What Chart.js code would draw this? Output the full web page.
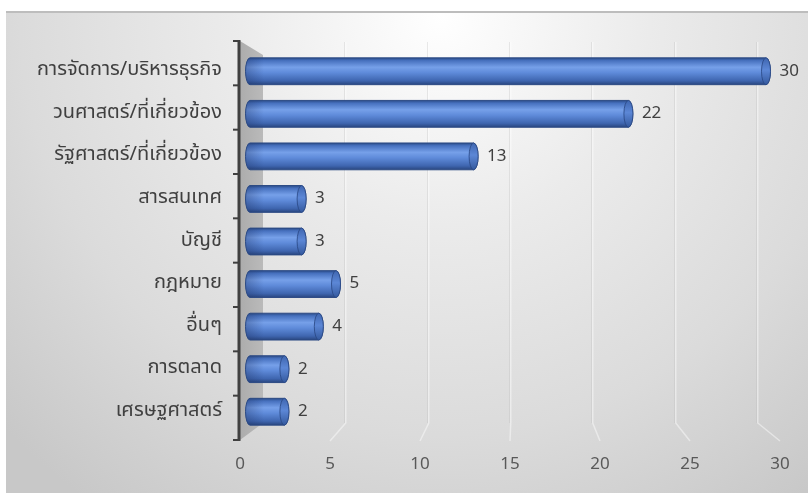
<!DOCTYPE html>
<html>
<head>
<meta charset="utf-8">
<script src="https://cdn.jsdelivr.net/npm/chart.js@4.4.1/dist/chart.umd.min.js"></script>
<style>
  html, body { margin: 0; padding: 0; background: #ffffff; }
  #wrap { width: 808px; height: 493px; position: relative; }
</style>
</head>
<body>
<div id="wrap"><canvas id="myChart"></canvas></div>
<script>
// data
var categories = ['การจัดการ/บริหารธุรกิจ', 'วนศาสตร์/ที่เกี่ยวข้อง', 'รัฐศาสตร์/ที่เกี่ยวข้อง', 'สารสนเทศ', 'บัญชี', 'กฎหมาย', 'อื่นๆ', 'การตลาด', 'เศรษฐศาสตร์'];
var values = [30, 22, 13, 3, 3, 5, 4, 2, 2];
var xTicks = [0, 5, 10, 15, 20, 25, 30];

var FONT = "Tahoma, 'Noto Sans Thai', 'Noto Sans', 'DejaVu Sans', sans-serif";
var BAR_PCT = 0.63;

// fake 3D: front plane (axis, labels) is a bit bigger, back wall a bit smaller
function frontX(chart, px) { var a = chart.chartArea; return 240 + (px - a.left) * 540 / (a.right - a.left); }
function backX(chart, px) { var a = chart.chartArea; return 263 + (px - a.left) * 494 / (a.right - a.left); }
function frontY(chart, py) { var a = chart.chartArea; return 41 + (py - a.top) * 399 / (a.bottom - a.top); }

function barGradient(ctx, top, bottom) {
    var g = ctx.createLinearGradient(0, top, 0, bottom);
    g.addColorStop(0, '#2b4c88');
    g.addColorStop(0.1, '#4670be');
    g.addColorStop(0.35, '#76a0e9');
    g.addColorStop(0.55, '#5f8bda');
    g.addColorStop(0.85, '#3f66b0');
    g.addColorStop(1, '#29467f');
    return g;
}

var scene3d = {
    id: 'scene3d',
    beforeDraw: function (chart) {
        var ctx = chart.ctx;
        var a = chart.chartArea;
        var xs = chart.scales.x;
        ctx.save();
        ctx.fillStyle = '#ffffff';
        ctx.fillRect(0, 0, chart.width, chart.height);
        // chart background
        var bg = ctx.createRadialGradient(440, 15, 0, 440, 15, 600);
        bg.addColorStop(0, '#ffffff');
        bg.addColorStop(0.35, '#ebebeb');
        bg.addColorStop(0.7, '#dbdbdb');
        bg.addColorStop(1, '#c8c8c8');
        ctx.fillStyle = bg;
        ctx.fillRect(6, 12, chart.width - 6, chart.height - 12);
        ctx.fillStyle = '#bdbdbd';
        ctx.fillRect(6, 11, chart.width - 6, 2);

        // side wall
        var sx0 = frontX(chart, a.left), sx1 = backX(chart, a.left);
        var sg = ctx.createLinearGradient(sx0, 0, sx1, 0);
        sg.addColorStop(0, '#acacac');
        sg.addColorStop(1, '#bababa');
        ctx.fillStyle = sg;
        ctx.beginPath();
        ctx.moveTo(sx0, frontY(chart, a.top));
        ctx.lineTo(sx1, 55);
        ctx.lineTo(sx1, 423);
        ctx.lineTo(sx0, frontY(chart, a.bottom));
        ctx.closePath();
        ctx.fill();

        // gridlines on back wall + floor diagonals
        xTicks.forEach(function (v) {
            if (v === 0) return;
            var px = xs.getPixelForValue(v);
            var bx = Math.round(backX(chart, px)), fx = frontX(chart, px);
            ctx.lineWidth = 1;
            ctx.strokeStyle = 'rgba(185,185,185,0.3)';
            ctx.beginPath();
            ctx.moveTo(bx - 0.5, 42);
            ctx.lineTo(bx - 0.5, 423);
            ctx.stroke();
            ctx.strokeStyle = 'rgba(255,255,255,0.45)';
            ctx.lineWidth = 1.5;
            ctx.beginPath();
            ctx.moveTo(bx + 0.75, 42);
            ctx.lineTo(bx + 0.75, 423);
            ctx.lineTo(fx, 441);
            ctx.stroke();
        });
        ctx.restore();
    },
    afterDatasetsDraw: function (chart) {
        var ctx = chart.ctx;
        var a = chart.chartArea;
        var xs = chart.scales.x;
        var meta = chart.getDatasetMeta(0);
        ctx.save();
        meta.data.forEach(function (bar, i) {
            var h = bar.height, top = bar.y - h / 2, bottom = bar.y + h / 2;
            var x0 = bar.base, x1 = bar.x, rx = 4.5;
            // left rounded end
            ctx.fillStyle = barGradient(ctx, top, bottom);
            ctx.beginPath();
            ctx.ellipse(x0, bar.y, rx, h / 2, 0, Math.PI / 2, Math.PI * 1.5);
            ctx.closePath();
            ctx.fill();
            // shade near the left end
            var lg = ctx.createLinearGradient(x0 - rx, 0, x0 + 14, 0);
            lg.addColorStop(0, 'rgba(30,50,100,0.35)');
            lg.addColorStop(1, 'rgba(30,50,100,0)');
            ctx.fillStyle = lg;
            ctx.beginPath();
            ctx.ellipse(x0, bar.y, rx, h / 2, 0, Math.PI / 2, Math.PI * 1.5);
            ctx.lineTo(x0 + 14, top);
            ctx.lineTo(x0 + 14, bottom);
            ctx.closePath();
            ctx.fill();
            // outline
            ctx.strokeStyle = '#2c4a84';
            ctx.lineWidth = 1;
            ctx.beginPath();
            ctx.moveTo(x0, top);
            ctx.lineTo(x1, top);
            ctx.ellipse(x1, bar.y, rx, h / 2, 0, -Math.PI / 2, Math.PI / 2);
            ctx.lineTo(x0, bottom);
            ctx.ellipse(x0, bar.y, rx, h / 2, 0, Math.PI / 2, Math.PI * 1.5);
            ctx.stroke();
            // end face
            var fg = ctx.createLinearGradient(0, top, 0, bottom);
            fg.addColorStop(0, '#3f66b0');
            fg.addColorStop(0.45, '#5c87d6');
            fg.addColorStop(1, '#34599e');
            ctx.fillStyle = fg;
            ctx.beginPath();
            ctx.ellipse(x1, bar.y, rx, h / 2, 0, 0, Math.PI * 2);
            ctx.fill();
            ctx.strokeStyle = 'rgba(40,70,130,0.8)';
            ctx.stroke();
            // value label
            ctx.fillStyle = '#404040';
            ctx.font = '17px ' + FONT;
            ctx.textAlign = 'left';
            ctx.textBaseline = 'middle';
            ctx.fillText(String(values[i]), x1 + rx + 9, bar.y + 1);
        });

        // front axis line with tick marks
        var yTop = frontY(chart, a.top), yBot = frontY(chart, a.bottom);
        var ax = frontX(chart, a.left) - 1;
        ctx.strokeStyle = '#404040';
        ctx.lineWidth = 3;
        ctx.beginPath();
        ctx.moveTo(ax, yTop - 1);
        ctx.lineTo(ax, yBot + 1);
        ctx.stroke();
        ctx.lineWidth = 2;
        for (var k = 0; k <= categories.length; k++) {
            var py = a.top + k * (a.bottom - a.top) / categories.length;
            var fy = frontY(chart, py);
            ctx.beginPath();
            ctx.moveTo(ax - 6, fy);
            ctx.lineTo(ax, fy);
            ctx.stroke();
        }

        // x tick labels on the front edge
        ctx.fillStyle = '#595959';
        ctx.font = '17px ' + FONT;
        ctx.textAlign = 'center';
        ctx.textBaseline = 'middle';
        xTicks.forEach(function (v) {
            ctx.fillText(String(v), frontX(chart, xs.getPixelForValue(v)), 466);
        });
        ctx.restore();
    }
};

var ctx = document.getElementById('myChart').getContext('2d');
var myChart = new Chart(ctx, {
    type: 'bar',
    data: {
        labels: categories,
        datasets: [{
            data: values,
            backgroundColor: function (c) {
                var ys = c.chart.scales.y;
                if (!ys || c.dataIndex === undefined) return '#4472c4';
                var cy = ys.getPixelForValue(c.dataIndex);
                var half = (ys.bottom - ys.top) / categories.length * BAR_PCT / 2;
                if (!isFinite(cy) || !isFinite(half)) return '#4472c4';
                return barGradient(c.chart.ctx, cy - half, cy + half);
            },
            borderWidth: 0,
            categoryPercentage: 1,
            barPercentage: BAR_PCT
        }]
    },
    plugins: [scene3d],
    options: {
        indexAxis: 'y',
        responsive: true,
        maintainAspectRatio: false,
        animation: false,
        layout: { padding: { top: 50, bottom: 60, right: 42, left: 0 } },
        plugins: {
            legend: { display: false },
            tooltip: { enabled: false }
        },
        scales: {
            x: {
                display: false,
                min: 0,
                max: 30
            },
            y: {
                grid: { display: false, drawTicks: false },
                border: { display: false },
                ticks: {
                    color: '#404040',
                    padding: 28,
                    font: { family: FONT, size: 20 }
                },
                afterFit: function (scale) { scale.width = 250; }
            }
        }
    }
});
</script>
</body>
</html>
